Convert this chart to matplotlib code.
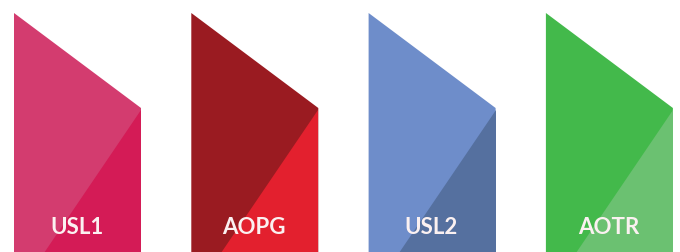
import matplotlib.pyplot as plt
from matplotlib.patches import Polygon

# labels and colours for each panel
labels = ["USL1", "AOPG", "USL2", "AOTR"]
main_colors = ["#D33C6F", "#9A1B21", "#6E8DCA", "#43B94B"]
corner_colors = ["#D41B56", "#E3202E", "#55709F", "#6BC171"]

fig = plt.figure(figsize=(6.8, 2.52), dpi=100)
ax = fig.add_axes([0, 0, 1, 1])
ax.set_xlim(0, 680)
ax.set_ylim(252, 0)
ax.axis("off")

left0, step, width = 14, 177.3, 127
top, knee, bottom = 13, 108, 253

for i, (lab, c1, c2) in enumerate(zip(labels, main_colors, corner_colors)):
    x0 = left0 + i * step
    x1 = x0 + width
    body = Polygon([(x0, top), (x1, knee), (x1, bottom), (x0, bottom)],
                   closed=True, facecolor=c1, edgecolor="none")
    ax.add_patch(body)
    corner = Polygon([(x1, knee + 2), (x1, bottom), (x0 + 30, bottom)],
                     closed=True, facecolor=c2, edgecolor="none")
    ax.add_patch(corner)
    ax.text((x0 + x1) / 2 - 1, 227, lab, color="#FBF1F1", fontsize=16,
            fontweight="bold", family="Lato", ha="center", va="center")

fig.savefig("out.png", dpi=100)
